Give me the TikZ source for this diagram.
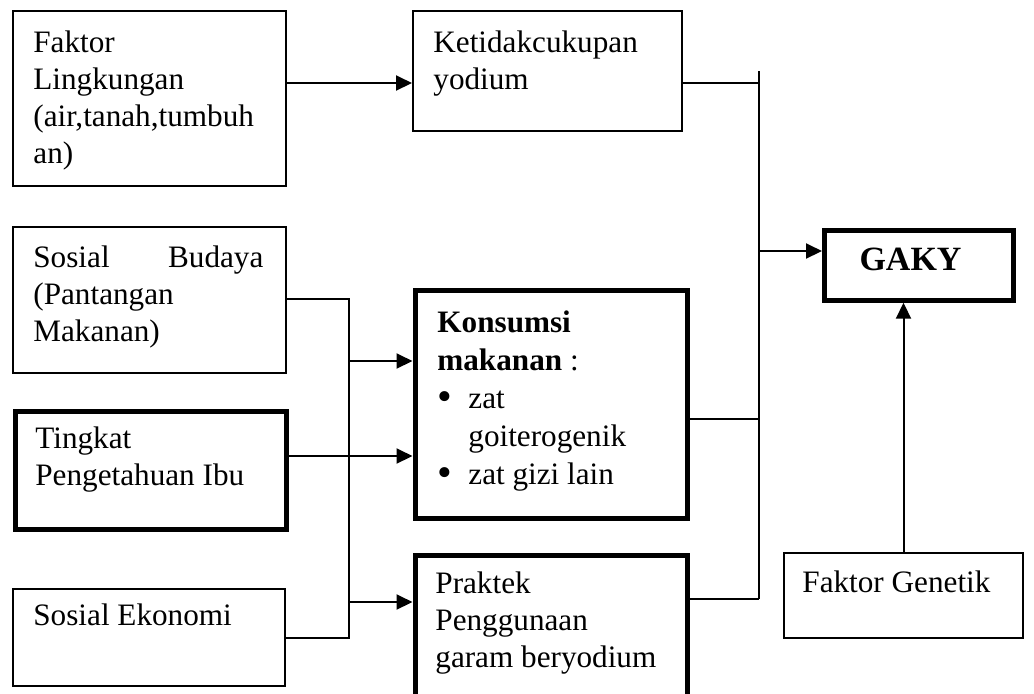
\documentclass[tikz,border=0pt]{standalone}
\usepackage{fontspec}
\setmainfont{Liberation Serif}
\usetikzlibrary{arrows.meta}
\begin{document}
\begin{tikzpicture}[x=0.5pt,y=-0.5pt,
  thinbox/.style={draw,line width=1pt,inner sep=0pt,anchor=north west},
  thickbox/.style={draw,line width=2.6pt,inner sep=0pt,anchor=north west},
  boxtext/.style={anchor=north west,inner sep=0pt,align=left,font=\fontsize{15.6}{18.5}\selectfont},
  link/.style={line width=1pt},
  feed/.style={line width=1pt,-{Triangle[length=8pt,width=7.5pt]}}]%
\useasboundingbox (0,0) rectangle (1034,693);%
\clip (0,0) rectangle (1034,693);%
\node[thinbox,minimum width=136.5pt,minimum height=87.5pt] (lingk) at (12,10) {};%
\node[thinbox,minimum width=134.5pt,minimum height=60pt] (yod) at (412,10) {};%
\node[thinbox,minimum width=136.5pt,minimum height=73pt] (budaya) at (12,226) {};%
\node[thickbox,minimum width=135.5pt,minimum height=59.25pt] (ibu) at (12.5,408.5) {};%
\node[thinbox,minimum width=136pt,minimum height=48.5pt] (ekon) at (12,588) {};%
\node[thickbox,minimum width=136pt,minimum height=114.25pt] (kons) at (412.5,287.5) {};%
\node[thickbox,minimum width=136pt,minimum height=80pt] (garam) at (412.5,552.5) {};%
\node[thickbox,minimum width=94.5pt,minimum height=35pt] (gaky) at (822,227.5) {};%
\node[thinbox,minimum width=119.5pt,minimum height=42.5pt] (genet) at (783,552) {};%
\node[boxtext] (lingk-t) at ([shift={(10.5pt,-9pt)}]lingk.north west) {\rule{0pt}{12pt}Faktor\\Lingkungan\\(air,tanah,tumbuh\\an)};%
\node[boxtext] (yod-t) at ([shift={(10.5pt,-9pt)}]yod.north west) {\rule{0pt}{12pt}Ketidakcukupan\\yodium};%
\node[boxtext] (budaya-t) at ([shift={(10.5pt,-8.5pt)}]budaya.north west) {\rule{0pt}{12pt}\makebox[115pt][l]{Sosial\hfill Budaya}\\(Pantangan\\Makanan)};%
\node[boxtext] (ibu-t) at ([shift={(11.25pt,-7.75pt)}]ibu.north west) {\rule{0pt}{12pt}Tingkat\\Pengetahuan Ibu};%
\node[boxtext] (ekon-t) at ([shift={(10.5pt,-6.5pt)}]ekon.north west) {\rule{0pt}{12pt}Sosial Ekonomi};%
\node[boxtext,font=\fontsize{15.6}{19}\selectfont] (kons-t) at ([shift={(12.25pt,-10.25pt)}]kons.north west) {\rule{0pt}{12pt}\textbf{Konsumsi}\\\textbf{makanan} :\\\makebox[15.5pt][l]{\raisebox{-1.2pt}{\fontsize{21}{21}\selectfont\textbullet}}zat\\\hspace*{15.5pt}goiterogenik\\\makebox[15.5pt][l]{\raisebox{-1.2pt}{\fontsize{21}{21}\selectfont\textbullet}}zat gizi lain};%
\node[boxtext] (garam-t) at ([shift={(11.25pt,-8.25pt)}]garam.north west) {\rule{0pt}{12pt}Praktek\\Penggunaan\\garam beryodium};%
\node[boxtext] (genet-t) at ([shift={(9.5pt,-8pt)}]genet.north west) {\rule{0pt}{12pt}Faktor Genetik};%
\node[anchor=base,inner sep=0pt,font=\fontsize{17}{20}\selectfont\bfseries] (gaky-t) at (910.5,270) {GAKY};%
\coordinate (lbus) at (349,299);%
\coordinate (rbus) at (759,71);%
\coordinate (rbus-end) at (759,599);%
\draw[feed] (lingk.east |- 0,83) -- (yod.west |- 0,83);%
\draw[link] (yod.east |- 0,83) -- (rbus |- 0,83);%
\draw[link] (rbus) -- (rbus-end);%
\draw[link] (kons.east |- 0,419) -- (rbus |- 0,419);%
\draw[link] (garam.east |- rbus-end) -- (rbus-end);%
\draw[feed] (rbus |- 0,251) -- (gaky.west |- 0,251);%
\draw[feed] (genet.north) -- (genet.north |- gaky.south);%
\draw[link] (budaya.east |- lbus) -- (lbus) -- (lbus |- ekon.east) -- (ekon.east);%
\draw[feed] (lbus |- 0,361) -- (kons.west |- 0,361);%
\draw[feed] (ibu.east |- 0,456) -- (kons.west |- 0,456);%
\draw[feed] (lbus |- 0,602) -- (garam.west |- 0,602);%
\end{tikzpicture}
\end{document}
